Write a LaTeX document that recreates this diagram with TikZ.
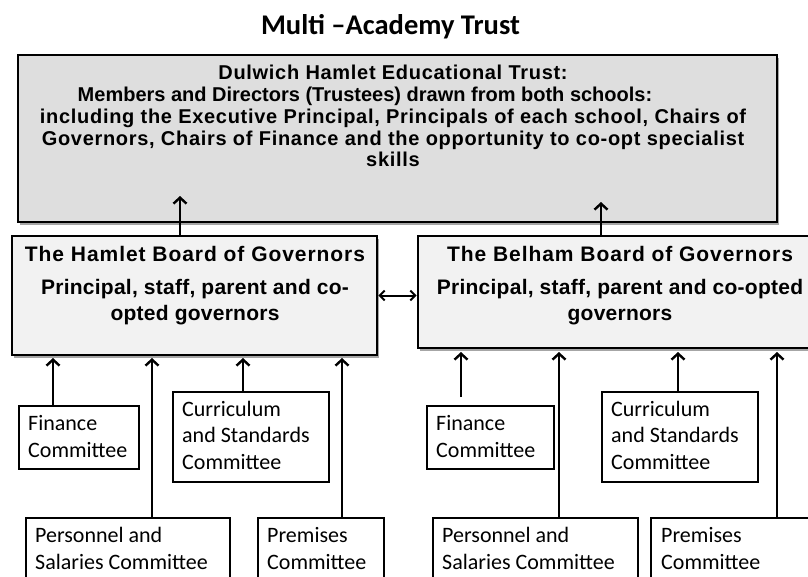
\documentclass[tikz,border=0pt]{standalone}
\usepackage{fontspec}
\setmainfont{Carlito}
\newfontfamily\headfont{Liberation Sans}[LetterSpace=3.5]
\newfontfamily\headtightfont{Liberation Sans}
\newfontfamily\boardfont{Liberation Sans}[LetterSpace=1.2]
\newfontfamily\boardheadfont{Liberation Sans}[LetterSpace=4.5]
\usetikzlibrary{arrows.meta,shadows}
\definecolor{trustfill}{gray}{0.87}
\definecolor{boardfill}{gray}{0.95}
\begin{document}
\begin{tikzpicture}[x=1pt,y=-1pt,
  trustbox/.style={draw=black, line width=2.6pt, fill=trustfill, rectangle, inner sep=0pt,
    drop shadow={shadow xshift=1.5pt, shadow yshift=-2.5pt, opacity=0.35, fill=black}},
  boardbox/.style={draw=black, line width=2.6pt, fill=boardfill, rectangle, inner sep=0pt,
    drop shadow={shadow xshift=1.5pt, shadow yshift=-2.5pt, opacity=0.35, fill=black}},
  combox/.style={draw=black, line width=2pt, fill=white, rectangle, inner sep=0pt, anchor=north west},
  headtext/.style={inner sep=0pt, align=center, font=\headfont\bfseries\fontsize{20}{21.7}\selectfont},
  boardtext/.style={inner sep=0pt, align=center, font=\boardfont\bfseries\fontsize{21}{26}\selectfont},
  comtext/.style={inner sep=0pt, align=left, anchor=base west, font=\fontsize{22}{26.5}\selectfont},
  arr/.style={line width=2.4pt, -{Straight Barb[length=6pt,width=13pt]}},
  darr/.style={line width=2pt, {Straight Barb[length=5pt,width=10pt]}-{Straight Barb[length=5pt,width=10pt]}}]
\clip (0,0) rectangle (808,576);

% heading
\node[inner sep=0pt, anchor=base, font=\bfseries\fontsize{28.5}{32}\selectfont] (title) at (390.5,34) {Multi –Academy Trust};

% trust box (multi-line text is placed by the baseline of its last line)
\node[trustbox, minimum width=759pt, minimum height=167pt] (trust) at (397.5,138.5) {};
\node[headtext, anchor=base] (trusttext) at (393,166.7) {Dulwich Hamlet Educational Trust:\\
  {\headtightfont Members and Directors (Trustees) drawn from both schools:}\rule{56pt}{0pt}\\
  including the Executive Principal, Principals of each school, Chairs of\\
  Governors, Chairs of Finance and the opportunity to co-opt specialist\\
  skills};

% boards of governors
\node[boardbox, minimum width=365pt, minimum height=119pt] (hamlet) at (194.5,295.5) {};
\node[boardtext, anchor=base] (hamlettext) at (195,320) {{\boardheadfont The Hamlet Board of Governors}\\[6.3pt]
  Principal, staff, parent and co-\\ opted governors};
\node[boardbox, minimum width=404pt, minimum height=112pt] (belham) at (620,292) {};
\node[boardtext, anchor=base] (belhamtext) at (620,320) {{\boardheadfont The Belham Board of Governors}\\[6.3pt]
  Principal, staff, parent and co-opted\\ governors};

% Hamlet committees
\node[combox, minimum width=120pt, minimum height=63pt] (hfin) at (18,405) {};
\node[comtext] (hfintext) at (28,457) {Finance\\Committee};
\node[combox, minimum width=156pt, minimum height=90pt] (hcur) at (172,391) {};
\node[comtext] (hcurtext) at (182,469) {Curriculum\\and Standards\\Committee};
\node[combox, minimum width=204pt, minimum height=90pt] (hper) at (25,517) {};
\node[comtext] (hpertext) at (35,569) {Personnel and\\Salaries Committee};
\node[combox, minimum width=126pt, minimum height=90pt] (hpre) at (257,517) {};
\node[comtext] (hpretext) at (267,569) {Premises\\Committee};

% Belham committees
\node[combox, minimum width=127pt, minimum height=63pt] (bfin) at (426,405) {};
\node[comtext] (bfintext) at (436,457) {Finance\\Committee};
\node[combox, minimum width=156pt, minimum height=90pt] (bcur) at (601,391) {};
\node[comtext] (bcurtext) at (611,469) {Curriculum\\and Standards\\Committee};
\node[combox, minimum width=205pt, minimum height=90pt] (bper) at (432,517) {};
\node[comtext] (bpertext) at (442,569) {Personnel and\\Salaries Committee};
\node[combox, minimum width=200pt, minimum height=90pt] (bpre) at (650,517) {};
\node[comtext] (bpretext) at (661,569) {Premises\\Committee};

% arrow tips
\coordinate (tT1) at (180,196);
\coordinate (tT2) at (601,202);
\coordinate (tH1) at (53,358);
\coordinate (tH2) at (152,358);
\coordinate (tH3) at (243,358);
\coordinate (tH4) at (342,358);
\coordinate (tB1) at (461,352);
\coordinate (tB2) at (559,352);
\coordinate (tB3) at (678,352);
\coordinate (tB4) at (777,352);

% boards report to the trust
\draw[arr] (hamlet.north -| tT1) -- (tT1);
\draw[arr] (belham.north -| tT2) -- (tT2);
\draw[darr] (hamlet.east) -- (hamlet.east -| belham.west);

% committees report to their boards
\draw[arr] (hfin.north -| tH1) -- (tH1);
\draw[arr] (hper.north -| tH2) -- (tH2);
\draw[arr] (hcur.north -| tH3) -- (tH3);
\draw[arr] (hpre.north -| tH4) -- (tH4);
\draw[arr] ([yshift=8pt]bfin.north -| tB1) -- (tB1);
\draw[arr] (bper.north -| tB2) -- (tB2);
\draw[arr] (bcur.north -| tB3) -- (tB3);
\draw[arr] (bpre.north -| tB4) -- (tB4);
\end{tikzpicture}
\end{document}
